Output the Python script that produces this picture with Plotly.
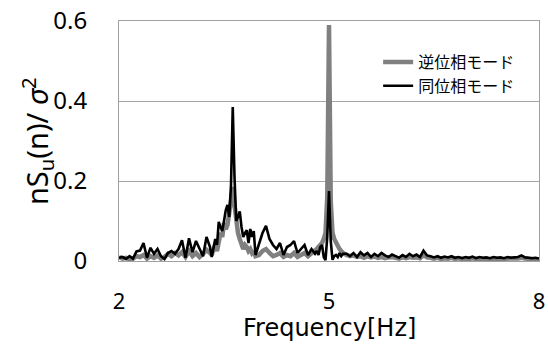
import numpy as np
import plotly.graph_objects as go

# Frequency grid [Hz] (finer around the two peaks)
freq_a = np.round(np.arange(2.00, 3.3001, 0.05), 3)    # 27
freq_b = np.round(np.arange(3.325, 3.9501, 0.025), 3)  # 26
freq_c = np.round(np.arange(4.00, 4.8001, 0.05), 3)    # 17
freq_d = np.round(np.arange(4.825, 5.2001, 0.025), 3)  # 16
freq_e = np.round(np.arange(5.25, 8.0001, 0.05), 3)    # 56
freq = np.concatenate([freq_a, freq_b, freq_c, freq_d, freq_e])

# 同位相モード (black)
inphase_a = [0.008, 0.010, 0.005, 0.012, 0.006, 0.024, 0.026, 0.045, 0.008, 0.033,
             0.018, 0.030, 0.012, 0.005, 0.020, 0.025, 0.018, 0.030, 0.052, 0.008,
             0.057, 0.022, 0.050, 0.030, 0.012, 0.060, 0.035]
inphase_b = [0.010, 0.030, 0.055, 0.040, 0.098, 0.085, 0.075, 0.100, 0.127, 0.140,
             0.110, 0.190, 0.385, 0.210, 0.100, 0.110, 0.124, 0.085, 0.060, 0.070,
             0.077, 0.045, 0.080, 0.060, 0.075, 0.015]
inphase_c = [0.040, 0.070, 0.088, 0.055, 0.040, 0.030, 0.045, 0.015, 0.035, 0.040,
             0.050, 0.020, 0.030, 0.040, 0.015, 0.030, 0.018]
inphase_d = [0.025, 0.015, 0.035, 0.040, 0.010, 0.002, 0.060, 0.175, 0.050, 0.003,
             0.012, 0.015, 0.010, 0.020, 0.012, 0.018]
inphase_e = [0.018, 0.012, 0.020, 0.010, 0.022, 0.014, 0.020, 0.010, 0.018, 0.012,
             0.020, 0.014, 0.010, 0.016, 0.012, 0.008, 0.015, 0.010, 0.018, 0.012,
             0.016, 0.010, 0.026, 0.014, 0.012, 0.009, 0.012, 0.008, 0.011, 0.009,
             0.012, 0.008, 0.010, 0.007, 0.010, 0.008, 0.011, 0.007, 0.010, 0.008,
             0.009, 0.007, 0.010, 0.008, 0.009, 0.007, 0.010, 0.008, 0.009, 0.010,
             0.014, 0.009, 0.008, 0.007, 0.008, 0.006]

# 逆位相モード (grey)
anti_a = [0.010, 0.006, 0.008, 0.004, 0.006, 0.012, 0.010, 0.015, 0.006, 0.012,
          0.008, 0.014, 0.006, 0.010, 0.018, 0.012, 0.020, 0.014, 0.022, 0.010,
          0.025, 0.012, 0.020, 0.010, 0.018, 0.028, 0.020]
anti_b = [0.015, 0.030, 0.040, 0.025, 0.050, 0.070, 0.060, 0.095, 0.080, 0.090,
          0.120, 0.150, 0.185, 0.140, 0.100, 0.070, 0.055, 0.045, 0.030, 0.040,
          0.035, 0.025, 0.030, 0.020, 0.025, 0.012]
anti_c = [0.015, 0.025, 0.030, 0.020, 0.012, 0.015, 0.020, 0.010, 0.015, 0.012,
          0.020, 0.010, 0.015, 0.020, 0.012, 0.018, 0.025]
anti_d = [0.030, 0.035, 0.040, 0.045, 0.055, 0.070, 0.160, 0.590, 0.150, 0.070,
          0.055, 0.045, 0.035, 0.030, 0.025, 0.020]
anti_e = [0.015, 0.012, 0.014, 0.010, 0.012, 0.008, 0.012, 0.009, 0.011, 0.008,
          0.010, 0.007, 0.009, 0.010, 0.008, 0.006, 0.009, 0.007, 0.010, 0.008,
          0.009, 0.007, 0.015, 0.009, 0.008, 0.006, 0.008, 0.005, 0.007, 0.006,
          0.008, 0.005, 0.007, 0.005, 0.006, 0.005, 0.007, 0.005, 0.006, 0.005,
          0.006, 0.004, 0.006, 0.005, 0.006, 0.004, 0.006, 0.005, 0.006, 0.006,
          0.008, 0.006, 0.005, 0.004, 0.005, 0.004]

inphase = inphase_a + inphase_b + inphase_c + inphase_d + inphase_e
anti = anti_a + anti_b + anti_c + anti_d + anti_e
n = min(len(freq), len(inphase), len(anti))

x_ticks = [2, 5, 8]
y_ticks = [0, 0.2, 0.4, 0.6]
y_tick_text = ["0", "0.2", "0.4", "0.6"]
x_title = "Frequency[Hz]"
y_title = "nS<sub>u</sub>(n)/ <i>σ</i><sup>2</sup>"

fig = go.Figure()
fig.add_trace(go.Scatter(x=freq[:n], y=anti[:n], mode="lines", name="逆位相モード",
                         line=dict(color="#808080", width=4.5)))
fig.add_trace(go.Scatter(x=freq[:n], y=inphase[:n], mode="lines", name="同位相モード",
                         line=dict(color="#000000", width=2.6)))

num_font = "Noto Sans, sans-serif"
fig.update_layout(
    width=548, height=345,
    margin=dict(l=119, r=9, t=21, b=84, autoexpand=False),
    paper_bgcolor="white", plot_bgcolor="white",
    showlegend=True,
    legend=dict(x=0.617, y=0.9, xanchor="left", yanchor="top",
                bgcolor="rgba(0,0,0,0)", tracegroupgap=0,
                font=dict(family="Noto Sans CJK JP", size=16, color="#000")),
    xaxis=dict(range=[2, 8], tickvals=x_ticks, ticktext=[str(v) for v in x_ticks],
               showgrid=False, zeroline=False, automargin=False,
               showline=True, linecolor="#a0a0a0", linewidth=1, mirror=True,
               ticks="", ticklabelstandoff=21,
               tickfont=dict(family=num_font, size=22, color="#000")),
    yaxis=dict(range=[0, 0.6], tickvals=y_ticks, ticktext=y_tick_text,
               showgrid=True, gridcolor="#a6a6a6", gridwidth=1, zeroline=False,
               automargin=False,
               showline=True, linecolor="#a0a0a0", linewidth=1, mirror=True,
               ticks="", ticklabelstandoff=26,
               tickfont=dict(family=num_font, size=24, color="#000")),
    annotations=[
        dict(text=x_title, xref="paper", yref="paper", x=0.5, y=-0.278,
             xanchor="center", yanchor="middle", showarrow=False,
             font=dict(family="DejaVu Sans, sans-serif", size=24, color="#000")),
        dict(text=y_title, xref="paper", yref="paper", x=-0.195, y=0.5,
             xanchor="center", yanchor="middle", showarrow=False, textangle=-90,
             font=dict(family=num_font, size=29, color="#000")),
    ],
)

fig.write_html("out.html")
